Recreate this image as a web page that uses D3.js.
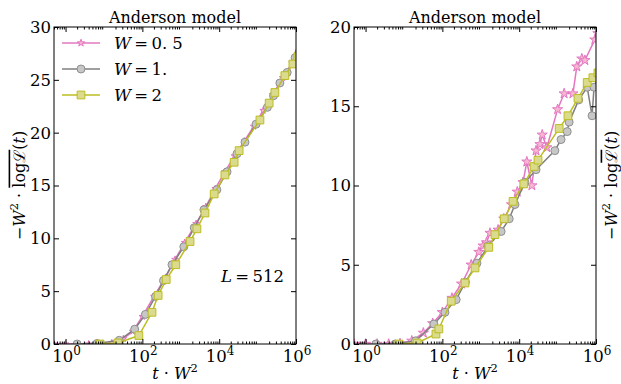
<!DOCTYPE html>
<html><head><meta charset="utf-8">
<script src="https://cdn.jsdelivr.net/npm/d3@7"></script>
<style>body{margin:0;background:#fff} text{font-family:"DejaVu Serif";fill:#000}</style>
</head><body><svg id="c" width="621" height="384"></svg>
<script>
// ---- data (x = t·W², y = -W²·log L) ----
const xTicks = [1e0, 1e2, 1e4, 1e6];
const xTickExp = ["0", "2", "4", "6"];
const yTicksLeft = [0, 5, 10, 15, 20, 25, 30];
const yTicksRight = [0, 5, 10, 15, 20];
const seriesNames = ["0. 5", "1.", "2"];

const leftW05 = [[0.5,0],[1,0],[2,0],[4,0],[7.9,0.02],[16,0.1],[32,0.5],[56,1.2],[100,2.6],[200,4.5],[400,6.3],[710,8.0],[1260,9.6],[2500,11.4],[4500,13.0],[7900,14.7],[1.4e4,16.3],[2.5e4,17.8],[4.5e4,19.2],[7.9e4,20.6],[1.4e5,22.1],[2.5e5,23.6],[4.5e5,25.2],[7.9e5,26.6],[1.12e6,27.5]];
const leftW1 = [[2,0],[6.6,0.05],[25,0.35],[63,1.4],[120,2.8],[220,4.5],[355,6.0],[590,7.5],[1200,9.2],[2240,11.0],[4000,12.7],[8700,14.6],[1.6e4,16.3],[2.9e4,18.0],[4.7e4,19.1],[9.1e4,20.8],[1.8e5,22.4],[2.6e5,23.5],[3.8e5,24.7],[5.9e5,25.7],[9.5e5,27.1],[1.2e6,27.6]];
const leftW2 = [[7.9,0],[23,0.1],[81,0.8],[178,3.0],[257,4.6],[417,6.1],[741,7.5],[1740,9.7],[2630,10.9],[4270,12.4],[7410,14.2],[1.41e4,16.0],[2.45e4,17.2],[3.31e4,18.3],[1.15e5,21.2],[2.0e5,22.8],[2.82e5,23.8],[5.13e5,25.4],[8.3e5,26.5],[1.12e6,27.2]];

const rightW05 = [[0.5,0],[1,0],[2,0],[4,0],[7.9,0.03],[16,0.2],[32,0.7],[56,1.3],[100,2.0],[178,2.9],[316,3.8],[562,5.0],[891,5.8],[1150,6.2],[1410,6.4],[1740,7.0],[2820,7.2],[3980,7.9],[6310,8.8],[8910,9.6],[1.26e4,10.2],[1.58e4,11.5],[2.14e4,10.0],[2.75e4,12.2],[3.47e4,12.6],[3.98e4,13.2],[5.25e4,12.4],[1e5,14.8],[1.48e5,15.8],[2.51e5,15.8],[3.16e5,17.5],[4.27e5,18.0],[5.13e5,17.9],[9.33e5,19.2],[1.12e6,19.6]];
const rightW1 = [[1.86,0],[5.9,0],[20,0.2],[60,1.26],[117,2.0],[229,2.8],[398,3.9],[794,5.1],[1580,6.2],[3390,7.1],[5500,7.9],[7760,8.8],[1.41e4,10.2],[2.75e4,11.0],[8.5e4,12.2],[1.23e5,12.9],[1.78e5,13.4],[2.0e5,14.0],[3.55e5,15.4],[5.9e5,16.2],[7.9e5,14.4],[8.9e5,16.2],[1.12e6,16.8]];
const rightW2 = [[7.4,0],[22,0.06],[68,0.63],[81,0.95],[170,2.7],[389,3.85],[708,4.8],[1620,6.1],[2340,6.9],[4070,7.9],[6920,9.0],[1.32e4,10.1],[2.45e4,11.2],[3.09e4,11.6],[1.1e5,13.6],[1.86e5,14.4],[3.39e5,15.5],[5.9e5,16.5],[8.3e5,16.8],[1.12e6,17.1]];

// ---- styles ----
const styles = [
  {line:"#e377c2", fill:"#f7b6d2", edge:"#e377c2", sym:d3.symbolStar, size:34},
  {line:"#7f7f7f", fill:"#c7c7c7", edge:"#8f8f8f", sym:d3.symbolCircle, size:50},
  {line:"#bcbd22", fill:"#dbdb8d", edge:"#bcbd22", sym:d3.symbolSquare, size:60}
];

const svg = d3.select("#c");
const yTop = 27, yBot = 344;

function panel(id, x0, x1, ymax, yTicks, data, opts) {
  const x = d3.scaleLog().domain([0.5, 1e6]).range([x0, x1]);
  const y = d3.scaleLinear().domain([0, ymax]).range([yBot, yTop]);
  const g = svg.append("g");
  const clipId = "clip" + id;
  svg.append("clipPath").attr("id", clipId).append("rect")
    .attr("x", x0).attr("y", yTop).attr("width", x1 - x0).attr("height", yBot - yTop);

  const plot = g.append("g").attr("clip-path", `url(#${clipId})`);
  const line = d3.line().x(d => x(d[0])).y(d => y(d[1]));
  data.forEach((s, i) => {
    const st = styles[i];
    const size = (i === 0) ? opts.starSize : st.size;
    plot.append("path").datum(s).attr("d", line).attr("fill", "none")
      .attr("stroke", st.line).attr("stroke-width", 1.5);
    plot.selectAll(null).data(s).enter().append("path")
      .attr("d", d3.symbol().type(st.sym).size(size))
      .attr("transform", d => `translate(${x(d[0])},${y(d[1])})`)
      .attr("fill", st.fill).attr("stroke", st.edge).attr("stroke-width", 1);
  });

  // minor ticks
  const minor = [];
  for (let e = -1; e < 6; e++) for (let m = 2; m <= 9; m++) {
    const v = m * Math.pow(10, e);
    if (v >= 0.5 && v <= 1e6) minor.push(v);
  }
  const styleAxis = sel => { sel.select(".domain").remove(); sel.selectAll("line").attr("stroke", "#000"); sel.selectAll("text").remove(); };
  g.append("g").attr("transform", `translate(0,${yBot})`).call(d3.axisBottom(x).tickValues(xTicks).tickSize(-5)).call(styleAxis);
  g.append("g").attr("transform", `translate(0,${yBot})`).call(d3.axisBottom(x).tickValues(minor).tickSize(-2.5)).call(styleAxis);
  g.append("g").attr("transform", `translate(0,${yTop})`).call(d3.axisTop(x).tickValues(xTicks).tickSize(-5)).call(styleAxis);
  g.append("g").attr("transform", `translate(0,${yTop})`).call(d3.axisTop(x).tickValues(minor).tickSize(-2.5)).call(styleAxis);
  g.append("g").attr("transform", `translate(${x0},0)`).call(d3.axisLeft(y).tickValues(yTicks).tickSize(-5)).call(styleAxis);
  g.append("g").attr("transform", `translate(${x1},0)`).call(d3.axisRight(y).tickValues(yTicks).tickSize(-5)).call(styleAxis);

  g.append("rect").attr("x", x0).attr("y", yTop).attr("width", x1 - x0).attr("height", yBot - yTop)
    .attr("fill", "none").attr("stroke", "#000").attr("stroke-width", 1);

  // x tick labels
  xTicks.forEach((v, i) => {
    const t = g.append("text").attr("x", x(v) + 1).attr("y", 362).attr("text-anchor", "middle").attr("font-size", 16.5);
    t.append("tspan").text("10");
    t.append("tspan").attr("dy", -7).attr("font-size", 12).text(xTickExp[i]);
  });
  // y tick labels
  yTicks.forEach(v => {
    g.append("text").attr("x", x0 - 3).attr("y", y(v)).attr("dy", "0.36em").attr("text-anchor", "end")
      .attr("font-size", 16.5).text(v);
  });
  // title
  g.append("text").attr("x", (x0 + x1) / 2).attr("y", 23).attr("text-anchor", "middle").attr("font-size", 16).text("Anderson model");
  // x label
  const xl = g.append("text").attr("x", (x0 + x1) / 2).attr("y", 379).attr("text-anchor", "middle").attr("font-size", 16);
  xl.append("tspan").attr("font-style", "italic").text("t");
  xl.append("tspan").text(" · ");
  xl.append("tspan").attr("font-style", "italic").text("W");
  xl.append("tspan").attr("dy", -7).attr("font-size", 11.5).text("2");

  // y label
  const yl = g.append("text").attr("transform", `translate(${opts.ylx},${(yTop + yBot) / 2}) rotate(-90)`)
    .attr("text-anchor", "middle").attr("dy", "0.35em").attr("font-size", 16);
  yl.append("tspan").text("−");
  yl.append("tspan").attr("font-style", "italic").text("W");
  yl.append("tspan").attr("dy", -7).attr("font-size", 11.5).text("2");
  yl.append("tspan").attr("dy", 7).text(" · ");
  if (opts.overAll) {
    yl.append("tspan").attr("text-decoration", "overline").text("logℒ");
  } else {
    yl.append("tspan").text("log");
    yl.append("tspan").attr("text-decoration", "overline").text("ℒ");
  }
  yl.append("tspan").text("(");
  yl.append("tspan").attr("font-style", "italic").text("t");
  yl.append("tspan").text(")");
  return {g, x, y};
}

const L = panel("L", 54, 296, 30, yTicksLeft, [leftW05, leftW1, leftW2], {ylx: 19, overAll: true, starSize: 14});
panel("R", 354, 596, 20, yTicksRight, [rightW05, rightW1, rightW2], {ylx: 611, overAll: false, starSize: 32});

// legend
const leg = L.g.append("g");
[43, 69, 95].forEach((ly, i) => {
  const st = styles[i];
  leg.append("line").attr("x1", 62).attr("x2", 100).attr("y1", ly).attr("y2", ly).attr("stroke", st.line).attr("stroke-width", 1.5);
  leg.append("path").attr("d", d3.symbol().type(st.sym).size(i === 0 ? 16 : st.size)).attr("transform", `translate(81,${ly})`)
    .attr("fill", st.fill).attr("stroke", st.edge);
  const t = leg.append("text").attr("x", 114).attr("y", ly).attr("dy", "0.36em").attr("font-size", 16.5);
  t.append("tspan").attr("font-style", "italic").text("W");
  t.append("tspan").text("\u2009=\u2009" + seriesNames[i]);
});
// L = 512
const lt = L.g.append("text").attr("x", 221).attr("y", 282).attr("font-size", 16.5);
lt.append("tspan").attr("font-style", "italic").text("L");
lt.append("tspan").text("\u2009=\u2009512");
</script></body></html>
